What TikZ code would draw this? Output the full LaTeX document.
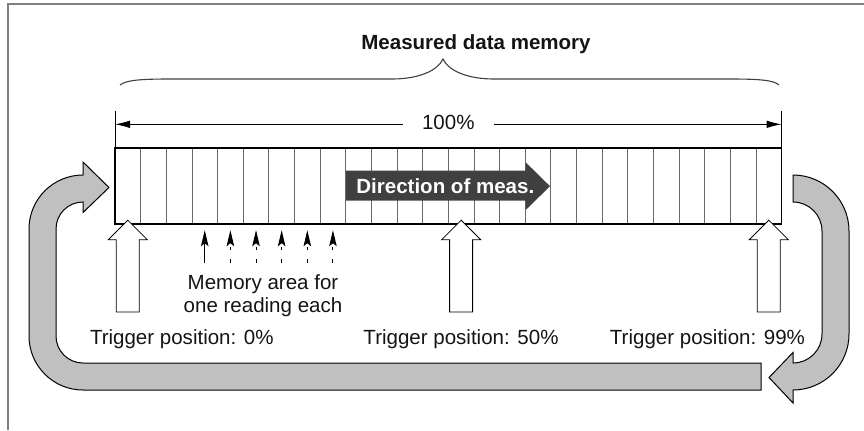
\documentclass[tikz,border=0pt]{standalone}
\usepackage{fontspec}
\setmainfont{Liberation Sans}
\usepackage{tikz}
\usetikzlibrary{positioning,arrows.meta,calc}
\definecolor{colorframe}{RGB}{128,128,128}
\definecolor{colorcell} {RGB}{105,105,105}
\definecolor{colorloop} {RGB}{192,192,192}
\definecolor{colordir}  {RGB}{ 64, 64, 64}
\definecolor{colortext} {RGB}{ 20, 20, 20}

\begin{document}
\begin{tikzpicture}[
    x=1bp, y=1bp,
    font={\fontsize{20.6}{23}\selectfont},
    base/.style={text=colortext,inner sep=0pt,outer sep=0pt},
    title/.style={base,font={\fontsize{20.6}{23}\selectfont\bfseries}},
    cell/.style={draw=colorcell,line width=0.8bp,minimum width=25.64bp,minimum height=76bp,inner sep=0pt,outer sep=0pt},
    bar/.style={draw=black,line width=1.6bp},
    dimline/.style={black,line width=0.9bp},
    dimarrow/.style={dimline,{Latex[length=15bp,width=7.5bp]}-{Latex[length=15bp,width=7.5bp]}},
    memarrow/.style={black,line width=0.9bp,-{Stealth[length=16bp,width=7.5bp,inset=3bp]}},
    trigger/.style={draw=black,fill=white,line width=0.8bp,line join=miter},
    loop/.style={draw=black,fill=colorloop,line width=1bp},
    brace/.style={draw=black!75,line width=1.1bp},
]

    \useasboundingbox (0,0) rectangle (864,-430);
    \draw[colorframe,line width=1.3bp] (864,-4) -- (8,-4) -- (8,-430);

    \node[title,anchor=base] (title) at (476,-49.7) {Measured data memory};
    \draw[brace] (120,-85) .. controls (126,-80) and (142,-79) .. (170,-79) -- (392,-79)
        .. controls (420,-79) and (438,-70) .. (443,-59)
        .. controls (448,-70) and (466,-79) .. (494,-79) -- (730,-79)
        .. controls (758,-79) and (774,-80) .. (779,-85);

    \foreach \i in {1,...,26}
        \node[cell] (c\i) at ({115+(\i-0.5)*25.64},-186.2) {};

    \draw[fill=colordir,draw=none] (346,-170.7) -- (525.7,-170.7) -- (525.7,-162.3) -- (550,-186.2)
        -- (525.7,-210) -- (525.7,-200.7) -- (346,-200.7) -- cycle;
    \node[base,text=white,font={\fontsize{20.6}{23}\selectfont\bfseries},anchor=base] (dir) at (445.3,-193.3) {Direction of meas.};

    \draw[bar] (c1.north west) rectangle (c26.south east);

    \coordinate (dimL) at ($(c1.north west)+(0,23.9)$);
    \coordinate (dimR) at ($(c26.north east)+(0,23.9)$);
    \draw[dimline] (c1.north west) -- ++(0,37);
    \draw[dimline] (c26.north east) -- ++(0,37);
    \draw[dimarrow] (dimL) -- node[base,fill=white,inner xsep=19bp,inner ysep=2bp,yshift=1.5bp] (pct) {100\%} (dimR);

    \foreach \c in {1,14,26}
        \draw[trigger] ($(c\c.south)+(0,4)$) -- ++(19.5,-19.5) -- ++(-8,0) -- ++(0,-72.2)
            -- ++(-23,0) -- ++(0,72.2) -- ++(-8,0) -- cycle;

    \draw[memarrow] ($(c4.south)+(0,-38.7)$) -- ($(c4.south)+(0,-6)$);
    \foreach \i in {5,...,9}
        \draw[memarrow,dash pattern=on 3.5bp off 9bp] ($(c\i.south)+(0,-38.7)$) -- ($(c\i.south)+(0,-6)$);

    \node[base,align=center,anchor=north] (mem) at (263,-274.7) {Memory area for\\one reading each};

    \node[base,anchor=base west] (trig0)  at (90,-344.7)  {Trigger position: 0\%};
    \node[base,anchor=base]      (trig50) at (461,-344.7) {Trigger position: 50\%};
    \node[base,anchor=base east] (trig99) at (805,-344.7) {Trigger position: 99\%};

    \draw[loop] (761,-363) -- (761,-390) -- (83,-390) arc[start angle=270,end angle=180,radius=54]
        -- (29,-229) arc[start angle=180,end angle=90,radius=54] -- (83,-162) -- (109,-187.5)
        -- (83,-212.5) -- (83,-202) arc[start angle=90,end angle=180,radius=27]
        -- (56,-336) arc[start angle=180,end angle=270,radius=27] -- cycle;
    \draw[loop] (793,-175) arc[start angle=90,end angle=0,radius=56] -- (849,-334)
        arc[start angle=0,end angle=-90,radius=56] -- (793,-403) -- (769,-377.5) -- (793,-352.5)
        -- (793,-363) arc[start angle=-90,end angle=0,radius=29] -- (822,-231)
        arc[start angle=0,end angle=90,radius=29] -- cycle;

\end{tikzpicture}
\end{document}
